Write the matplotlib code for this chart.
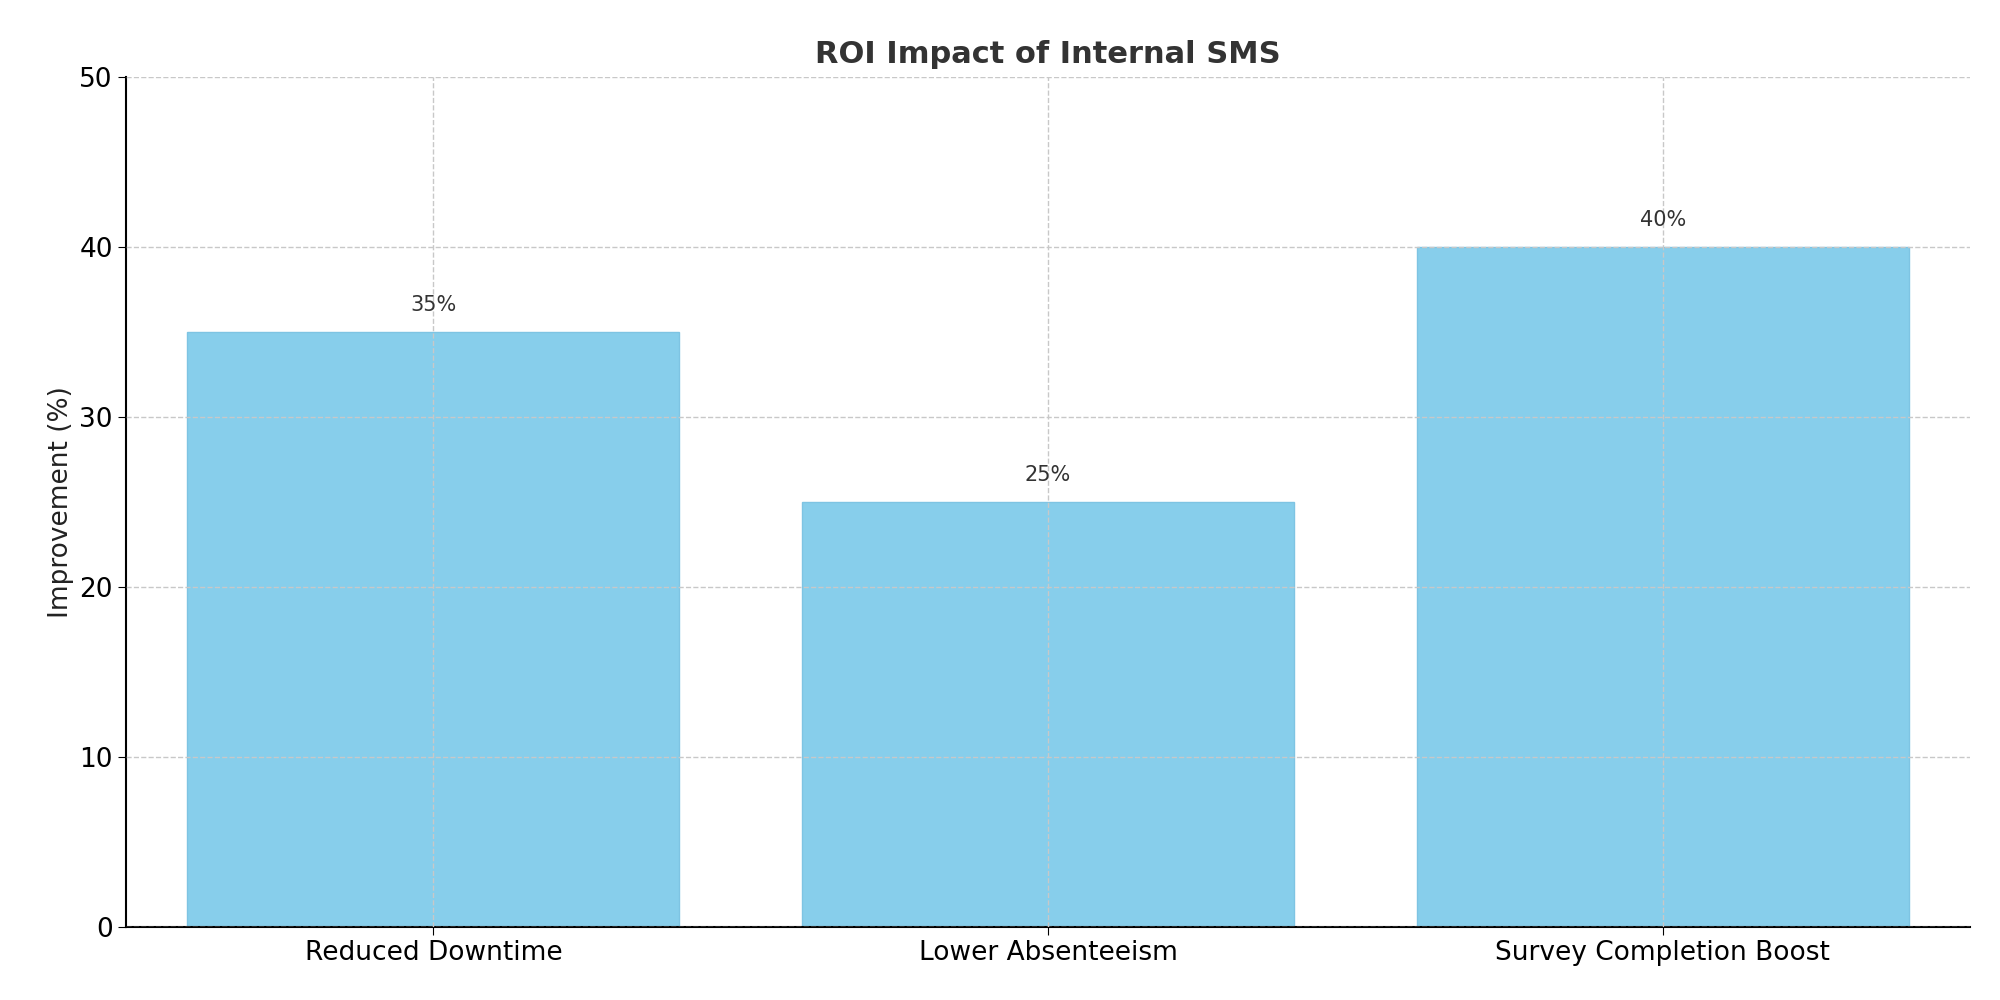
import matplotlib
matplotlib.use("Agg")
import matplotlib.pyplot as plt

categories = ["Reduced Downtime", "Lower Absenteeism", "Survey Completion Boost"]
values = [35, 25, 40]
labels = ["35%", "25%", "40%"]

fig = plt.figure(figsize=(20, 10), dpi=100)
ax = fig.add_axes([0.063, 0.073, 0.922, 0.85])
bars = ax.bar(categories, values, color="#87CEEB", edgecolor="#7EC4E3", width=0.8)
for b, l in zip(bars, labels):
    ax.text(b.get_x() + b.get_width() / 2, b.get_height() + 1, l,
            ha="center", va="bottom", fontsize=15, color="#333333")
ax.set_ylim(0, 50)
ax.set_xlim(-0.5, 2.5)
ax.set_ylabel("Improvement (%)", fontsize=19, color="#222222")
ax.set_title("ROI Impact of Internal SMS", fontsize=22, fontweight="bold", color="#333333", pad=10)
ax.tick_params(labelsize=19, length=6)
ax.grid(True, linestyle="--", color="#c8c8c8", linewidth=1)
ax.set_axisbelow(False)
for b in bars:
    b.set_zorder(1)
ax.spines["top"].set_visible(False)
ax.spines["right"].set_visible(False)
ax.spines["left"].set_linewidth(1.5)
ax.spines["bottom"].set_linewidth(1.5)
fig.savefig("out.png", dpi=100)
